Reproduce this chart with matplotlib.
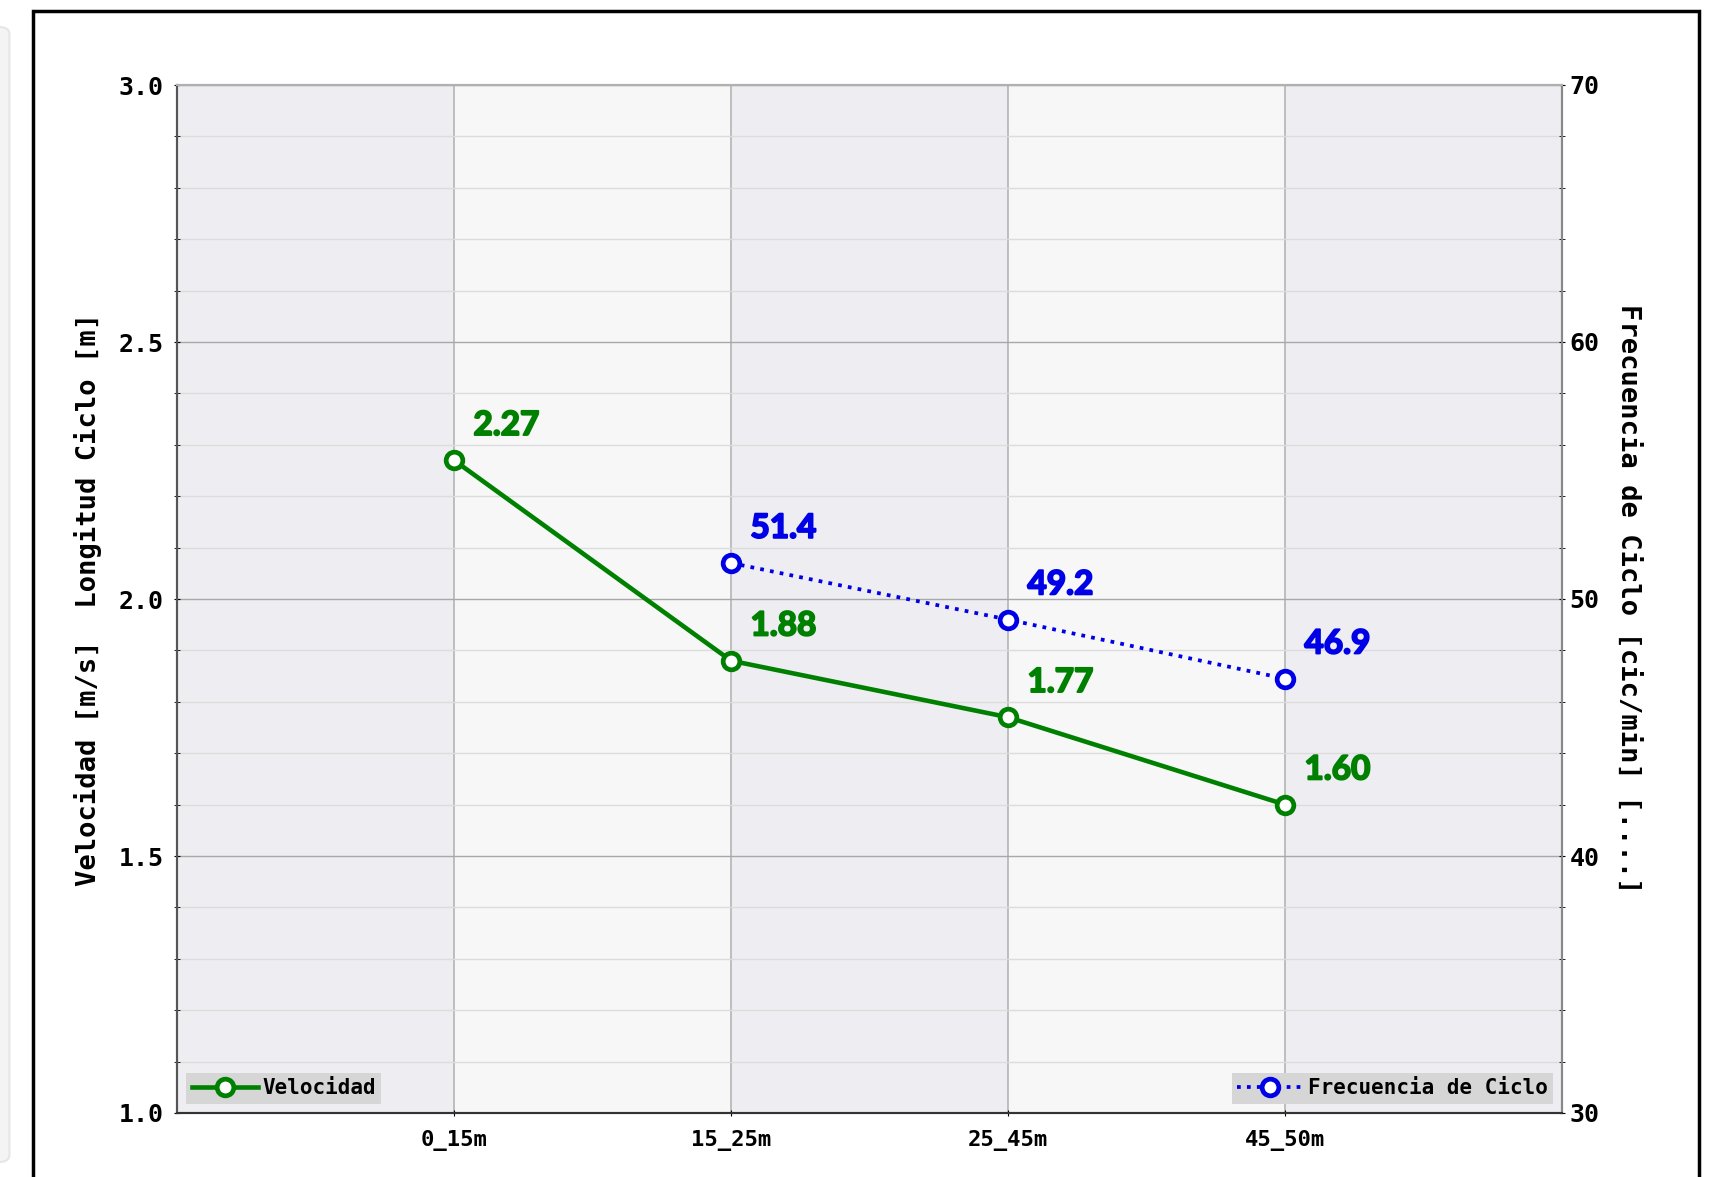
import numpy as np
from matplotlib import pyplot as plt
from matplotlib import patheffects as pe
from matplotlib.patches import Rectangle, FancyBboxPatch

# data
tramos = ["0_15m", "15_25m", "25_45m", "45_50m"]
velocidad = [2.27, 1.88, 1.77, 1.60]
frecuencia = [np.nan, 51.4, 49.2, 46.9]

mono = "DejaVu Sans Mono"
ann_font = "Lato"
green = "#008000"
blue = "#0000e6"

fig = plt.figure(figsize=(17.14, 11.77), dpi=100)
ax = fig.add_axes([177 / 1714, 1 - 1113 / 1177, 1385 / 1714, 1028 / 1177])
ax2 = ax.twinx()

x = np.arange(1, len(tramos) + 1)

# alternating background bands
for i in range(len(tramos) + 1):
    ax.axvspan(i, i + 1, color="#eeeef2" if i % 2 == 0 else "#f7f7f7", zorder=0, lw=0)

ax.set_xlim(0, len(tramos) + 1)
ax.set_ylim(1.0, 3.0)
ax2.set_ylim(30, 70)
ax.set_yticks(np.arange(1.0, 3.01, 0.5))
ax.set_yticks(np.arange(1.0, 3.01, 0.1), minor=True)
ax2.set_yticks(np.arange(30, 71, 10))
ax2.set_yticks(np.arange(30, 71, 2), minor=True)
ax.set_xticks(x)
ax.set_xticklabels(tramos)

ax.grid(True, which="major", axis="y", color="#a8a8a8", lw=1.0, zorder=1)
ax.grid(True, which="minor", axis="y", color="#dcdcdc", lw=1.0, zorder=1)
ax.grid(True, which="major", axis="x", color="#b4b4b4", lw=1.2, zorder=1)
ax.set_axisbelow(True)

for a in (ax, ax2):
    a.spines["top"].set_color("#b0b0b0")
    a.spines["left"].set_color("#555555")
    a.spines["bottom"].set_color("#333333")
    a.spines["right"].set_color("#888888")
    for s in a.spines.values():
        s.set_linewidth(1.5)

ax.tick_params(axis="y", which="major", labelsize=18, pad=7, length=5, direction="inout")
ax.tick_params(axis="y", which="minor", length=4, direction="inout")
ax.tick_params(axis="x", labelsize=16, pad=10, length=5, direction="inout")
ax2.tick_params(axis="y", which="major", labelsize=18, pad=3, length=5, direction="inout")
ax2.tick_params(axis="y", which="minor", length=4, direction="inout")
for lab in ax.get_xticklabels() + ax.get_yticklabels() + ax2.get_yticklabels():
    lab.set_fontfamily(mono)
    lab.set_fontweight("bold")

ax.set_ylabel("Velocidad [m/s]  Longitud Ciclo [m]", fontsize=19.5, fontfamily=mono,
              fontweight="bold", labelpad=12)
ax2.set_ylabel("Frecuencia de Ciclo [cic/min] [....]", fontsize=19.5, fontfamily=mono,
               fontweight="bold", rotation=270, labelpad=30)

l1, = ax.plot(x, velocidad, color=green, lw=3.3, marker="o", ms=12, mfc="white",
              mec=green, mew=3.4, label="Velocidad", zorder=5)
l2, = ax2.plot(x, frecuencia, color=blue, lw=2.7, ls=":", marker="o", ms=12, mfc="white",
               mec=blue, mew=3.4, label="Frecuencia de Ciclo", zorder=5)

for xi, v in zip(x, velocidad):
    ax.annotate(f"{v:.2f}", (xi, v), xytext=(14, 25), textcoords="offset points",
                ha="left", va="center", color=green, fontsize=24,
                fontfamily=ann_font, fontweight="bold",
                path_effects=[pe.withStroke(linewidth=1.4, foreground=green)])
for xi, v in zip(x, frecuencia):
    if np.isnan(v):
        continue
    ax2.annotate(f"{v:.1f}", (xi, v), xytext=(14, 25), textcoords="offset points",
                 ha="left", va="center", color=blue, fontsize=24,
                 fontfamily=ann_font, fontweight="bold",
                 path_effects=[pe.withStroke(linewidth=1.4, foreground=blue)])

leg_kw = dict(handlelength=3.2, handletextpad=0.2, borderpad=0.25,
              borderaxespad=0.45, fancybox=False, framealpha=1.0,
              prop={"family": mono, "weight": "bold", "size": 15})
leg1 = ax.legend(handles=[l1], loc="lower left", **leg_kw)
leg2 = ax2.legend(handles=[l2], loc="lower right", **leg_kw)
for lg in (leg1, leg2):
    lg.get_frame().set_facecolor("#d6d6d6")
    lg.get_frame().set_edgecolor("none")
    lg.set_zorder(10)

# figure frame and the gray strip at the left edge
fig.patches.append(Rectangle((33 / 1714, -0.05), (1699 - 33) / 1714, 1.05 - 11 / 1177,
                             transform=fig.transFigure, fill=False, ec="black", lw=2.5))
fig.patches.append(FancyBboxPatch((-0.01, 15 / 1177), 0.0155, 1 - 42 / 1177,
                                  boxstyle="round,pad=0,rounding_size=0.006",
                                  transform=fig.transFigure, fc="#f4f4f4", ec="#e6e6e6", lw=1.5))

fig.savefig("out.png", dpi=100)
